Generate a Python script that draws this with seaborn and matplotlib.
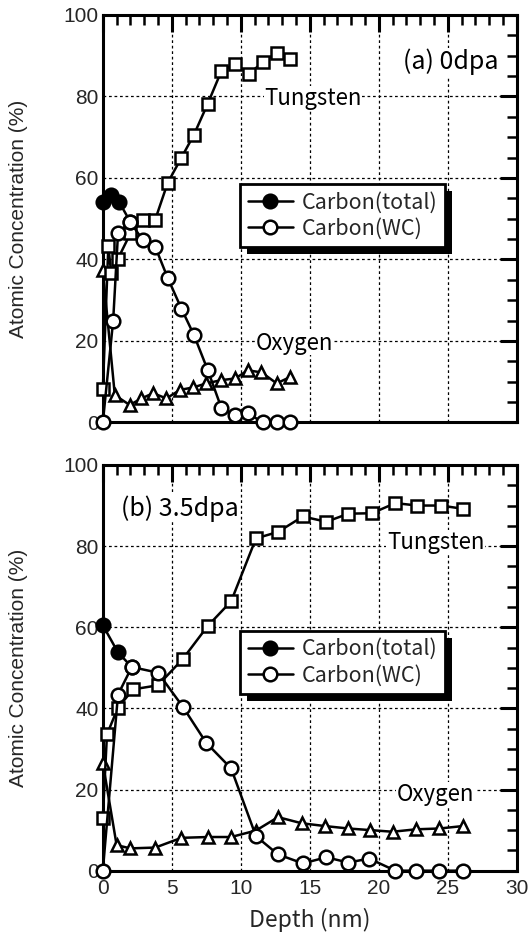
import matplotlib
matplotlib.use("Agg")
import matplotlib.pyplot as plt
from matplotlib.patches import Rectangle
import seaborn as sns

# ---------------- data ----------------
# (a) 0 dpa
w_top_x = [0, 0.4, 0.6, 1.1, 2.0, 2.9, 3.8, 4.7, 5.7, 6.6, 7.6, 8.6, 9.6, 10.6, 11.6, 12.6, 13.6]
w_top_y = [8.1, 43.3, 36.8, 40.2, 46.4, 49.6, 49.8, 58.8, 65.0, 70.6, 78.2, 86.3, 88.0, 85.6, 88.4, 90.7, 89.2]
ct_top_x = [0, 0.6, 1.2, 2.0]
ct_top_y = [54.2, 55.8, 54.0, 49.2]
wc_top_x = [0, 0.75, 1.1, 2.0, 2.9, 3.8, 4.7, 5.7, 6.6, 7.6, 8.6, 9.6, 10.5, 11.6, 12.6, 13.6]
wc_top_y = [0, 25.0, 46.4, 49.2, 44.7, 43.1, 35.5, 27.9, 21.5, 12.9, 3.5, 1.8, 2.3, 0, 0, 0]
o_top_x = [0, 0.87, 1.95, 2.8, 3.65, 4.6, 5.6, 6.55, 7.5, 8.6, 9.6, 10.5, 11.5, 12.6, 13.6]
o_top_y = [37.3, 6.7, 4.3, 5.9, 7.2, 5.9, 8.0, 8.6, 9.6, 10.4, 10.8, 12.8, 12.3, 9.6, 11.2]

# (b) 3.5 dpa
w_bot_x = [0, 0.3, 1.1, 2.2, 4.0, 5.8, 7.6, 9.3, 11.1, 12.7, 14.5, 16.2, 17.8, 19.5, 21.2, 22.8, 24.5, 26.1]
w_bot_y = [13.0, 33.6, 40.2, 44.7, 45.7, 52.2, 60.3, 66.4, 81.9, 83.5, 87.3, 86.0, 88.0, 88.1, 90.6, 90.0, 90.0, 89.2]
ct_bot_x = [0, 1.1, 2.1]
ct_bot_y = [60.5, 53.8, 50.2]
wc_bot_x = [0, 1.1, 2.1, 4.0, 5.8, 7.5, 9.3, 11.1, 12.7, 14.5, 16.2, 17.8, 19.3, 21.2, 22.7, 24.4, 26.1]
wc_bot_y = [0, 43.4, 50.2, 48.8, 40.4, 31.5, 25.2, 8.5, 4.0, 1.8, 3.3, 2.0, 3.0, 0, 0, 0, 0]
o_bot_x = [0, 1.0, 2.0, 3.8, 5.7, 7.6, 9.3, 11.1, 12.7, 14.4, 16.1, 17.8, 19.4, 21.0, 22.7, 24.4, 26.1]
o_bot_y = [26.6, 6.3, 5.5, 5.7, 8.1, 8.3, 8.3, 9.9, 13.2, 11.7, 11.0, 10.4, 10.0, 9.6, 10.2, 10.4, 11.0]

legend_labels = ["Carbon(total)", "Carbon(WC)"]
panel_titles = ["(a) 0dpa", "(b) 3.5dpa"]
x_ticks = [0, 5, 10, 15, 20, 25, 30]
y_ticks = [0, 20, 40, 60, 80, 100]

# ---------------- style ----------------
sns.set_style("white")
plt.rcParams["font.family"] = ["Liberation Sans", "DejaVu Sans"]
JP = ["Noto Sans CJK JP", "DejaVu Sans"]

fig = plt.figure(figsize=(5.3, 9.42), dpi=100)
ax_top = fig.add_axes([0.194, 0.5515, 0.781, 0.4326])
ax_bot = fig.add_axes([0.194, 0.0757, 0.781, 0.4307])

LW = 1.8
MEW = 1.8


def draw(ax, wx, wy, ctx, cty, wcx, wcy, ox, oy):
    common = dict(ax=ax, color="black", lw=LW, mec="black", mew=MEW, sort=False,
                  estimator=None, clip_on=False)
    sns.lineplot(x=ox, y=oy, marker="^", ms=8.5, mfc="white", label="_o", zorder=3, **common)
    sns.lineplot(x=wx, y=wy, marker="s", ms=8.5, mfc="white", label="_w", zorder=3, **common)
    sns.lineplot(x=ctx, y=cty, marker="o", ms=9.8, mfc="black",
                 label=legend_labels[0], zorder=4, **common)
    sns.lineplot(x=wcx, y=wcy, marker="o", ms=9.8, mfc="white",
                 label=legend_labels[1], zorder=5, **common)

    ax.set_xlim(0, 30)
    ax.set_ylim(0, 100)
    ax.set_xticks(x_ticks)
    ax.set_yticks(y_ticks)
    ax.set_xticks(range(0, 31), minor=True)
    ax.set_yticks(range(0, 101, 5), minor=True)
    ax.tick_params(which="major", direction="in", length=12, width=2.2,
                   top=True, right=True, labelsize=15, pad=3, color="black")
    ax.tick_params(which="minor", direction="in", length=7, width=1.8,
                   top=True, right=True, color="black")
    ax.tick_params(axis="x", pad=6)
    for s in ax.spines.values():
        s.set_linewidth(2.2)
        s.set_color("black")
        s.set_visible(True)
        s.set_zorder(2.5)
    ax.grid(True, which="major", color="black", lw=0.9, ls=(0, (2.2, 2.2)))
    ax.set_axisbelow(True)
    ax.set_ylabel("Atomic Concentration (%)", fontsize=15)
    ax.yaxis.set_label_coords(-0.18, 0.5)


draw(ax_top, w_top_x, w_top_y, ct_top_x, ct_top_y, wc_top_x, wc_top_y, o_top_x, o_top_y)
draw(ax_bot, w_bot_x, w_bot_y, ct_bot_x, ct_bot_y, wc_bot_x, wc_bot_y, o_bot_x, o_bot_y)

ax_top.set_xticklabels([])
ax_top.set_xlabel("")
ax_bot.set_xlabel("Depth (nm)", fontsize=16.5, family=JP)
ax_bot.xaxis.set_label_coords(0.5, -0.092)

bbox = dict(fc="white", ec="none", pad=0.5)
txt = dict(fontsize=16, family=JP, color="black", zorder=6)

ax_top.text(28.7, 88.5, panel_titles[0], ha="right", va="center", bbox=bbox,
            **{**txt, "fontsize": 18})
ax_top.text(11.7, 79.5, "Tungsten", ha="left", va="center", bbox=bbox, **txt)
ax_top.text(11.1, 19.5, "Oxygen", ha="left", va="center", bbox=bbox, **txt)

ax_bot.text(1.3, 89.3, panel_titles[1], ha="left", va="center", bbox=bbox,
            **{**txt, "fontsize": 18})
ax_bot.text(20.6, 81.0, "Tungsten", ha="left", va="center", bbox=bbox, **txt)
ax_bot.text(21.3, 18.8, "Oxygen", ha="left", va="center", bbox=bbox, **txt)

legends = []
for ax, top in [(ax_top, 0.585), (ax_bot, 0.592)]:
    leg = ax.legend(loc="upper left", bbox_to_anchor=(0.332, top), frameon=True,
                    fancybox=False, shadow=False,
                    prop={"family": JP, "size": 15.5}, handlelength=2.1,
                    handletextpad=0.4, borderpad=0.35, labelspacing=0.2,
                    borderaxespad=0, framealpha=1)
    leg.get_frame().set_edgecolor("black")
    leg.get_frame().set_linewidth(2.0)
    leg.set_zorder(7)
    legends.append((ax, leg))

# solid black drop shadow behind each legend box
fig.canvas.draw()
renderer = fig.canvas.get_renderer()
OFF = 7
for ax, leg in legends:
    bb = leg.get_window_extent(renderer)
    inv = fig.transFigure.inverted()
    (x0, y0) = inv.transform((bb.x0 + OFF, bb.y0 - OFF))
    (x1, y1) = inv.transform((bb.x1 + OFF, bb.y1 - OFF))
    shadow = Rectangle((x0, y0), x1 - x0, y1 - y0, transform=fig.transFigure,
                       fc="black", ec="black", lw=0, zorder=6.9, clip_on=False)
    ax.add_artist(shadow)

fig.savefig("out.png", dpi=100)
